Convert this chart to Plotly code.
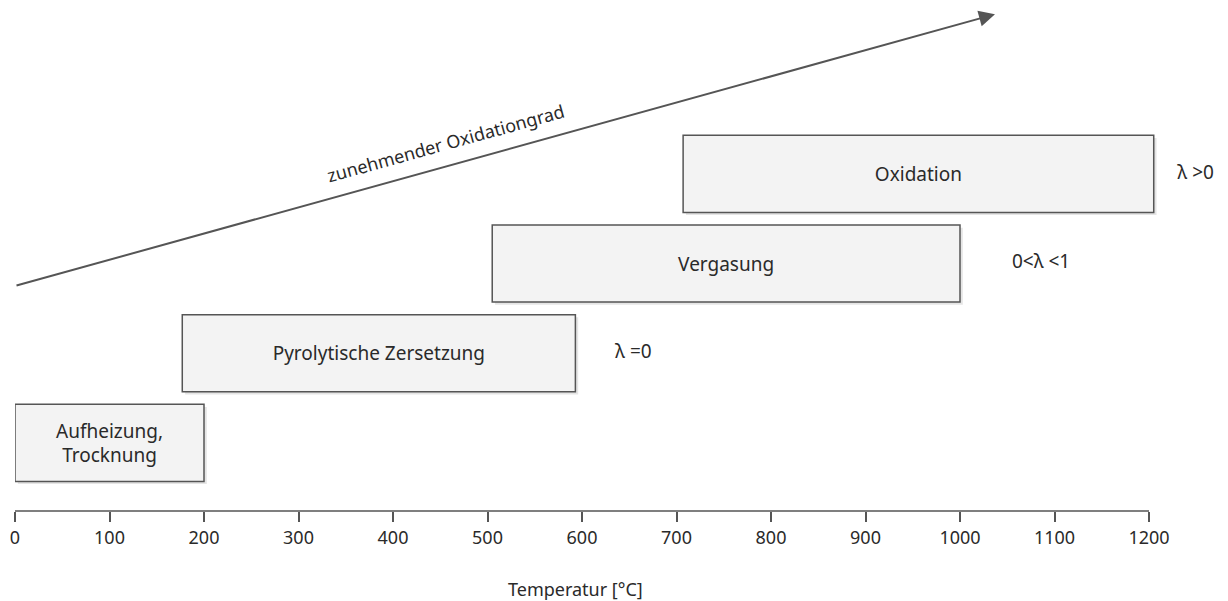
import plotly.graph_objects as go

# ---- data ----
processes = ["Aufheizung,<br>Trocknung", "Pyrolytische Zersetzung", "Vergasung", "Oxidation"]
rows = [0, 1, 2, 3]
t_start = [0, 177, 505, 707]
t_end = [200, 593, 1000, 1205]
lambda_labels = ["λ =0", "0<λ <1", "λ >0"]
lambda_rows = [1, 2, 3]
lambda_x = [635, 1055, 1230]
tick_vals = [0, 100, 200, 300, 400, 500, 600, 700, 800, 900, 1000, 1100, 1200]
tick_text = [str(v) for v in tick_vals]
x_title = "Temperatur [°C]"
arrow_label = "zunehmender Oxidationgrad"
arrow_start = (0, 1.75)
arrow_end = (1037, 4.78)

FONT = "Noto Sans"
TXT = "#2a2a2a"
AX = "#555555"
widths = [e - s for s, e in zip(t_start, t_end)]

# layout geometry: 1200 units over 1134 px, plot area 1209 px wide
PLOT_W = 1209
X_MAX = 1200 * PLOT_W / 1134
L_M = 7
R_M = 1228 - L_M - PLOT_W

fig = go.Figure()

# subtle shadow
fig.add_trace(go.Bar(
    y=rows, x=widths, base=[s + 3 for s in t_start], orientation="h",
    width=0.86, offset=-0.46,
    marker=dict(color="rgba(0,0,0,0.10)", line=dict(width=0)),
    hoverinfo="skip", showlegend=False,
))
# boxes
fig.add_trace(go.Bar(
    y=rows, x=widths, base=t_start, orientation="h",
    width=0.86, offset=-0.43,
    marker=dict(color="#f3f3f3", line=dict(color=AX, width=1.5)),
    text=processes, textposition="inside", insidetextanchor="middle",
    constraintext="none",
    textfont=dict(family=FONT, size=19, color=TXT),
    showlegend=False,
))
# lambda labels
fig.add_trace(go.Scatter(
    x=lambda_x, y=lambda_rows, mode="text", text=lambda_labels,
    textposition="middle right",
    textfont=dict(family=FONT, size=19, color=TXT),
    hoverinfo="skip", showlegend=False,
))

annotations = [
    dict(
        x=arrow_end[0], y=arrow_end[1], ax=arrow_start[0], ay=arrow_start[1],
        xref="x", yref="y", axref="x", ayref="y", text="", showarrow=True,
        arrowhead=2, arrowsize=1.6, arrowwidth=2, arrowcolor=AX,
    ),
    dict(
        x=456, y=3.345, xref="x", yref="y", text=arrow_label, showarrow=False,
        textangle=-15.5, font=dict(family=FONT, size=18, color=TXT),
    ),
    # axis title, centred under the tick range
    dict(
        x=(tick_vals[0] + tick_vals[-1]) / 2, y=0, xref="x", yref="paper",
        text=x_title, showarrow=False, xanchor="center", yanchor="middle",
        xshift=-7, yshift=-78, font=dict(family=FONT, size=18, color=TXT),
    ),
]

# axis baseline spanning only the tick range
shapes = [dict(type="line", xref="x", yref="paper",
               x0=tick_vals[0], x1=tick_vals[-1], y0=0, y1=0,
               line=dict(color=AX, width=1.5))]

fig.update_layout(
    width=1228, height=601,
    margin=dict(l=L_M, r=R_M, t=0, b=98),
    plot_bgcolor="white", paper_bgcolor="white",
    annotations=annotations, shapes=shapes,
    barmode="overlay",
    xaxis=dict(
        range=[0, X_MAX], tickvals=tick_vals, ticktext=tick_text,
        ticks="outside", ticklen=10, tickcolor=AX, tickwidth=1.5,
        showline=False, showgrid=False, zeroline=False,
        tickfont=dict(family=FONT, size=18, color=TXT),
    ),
    yaxis=dict(range=[-0.76, 4.85], visible=False, showgrid=False, zeroline=False),
)

fig.write_html("out.html")
